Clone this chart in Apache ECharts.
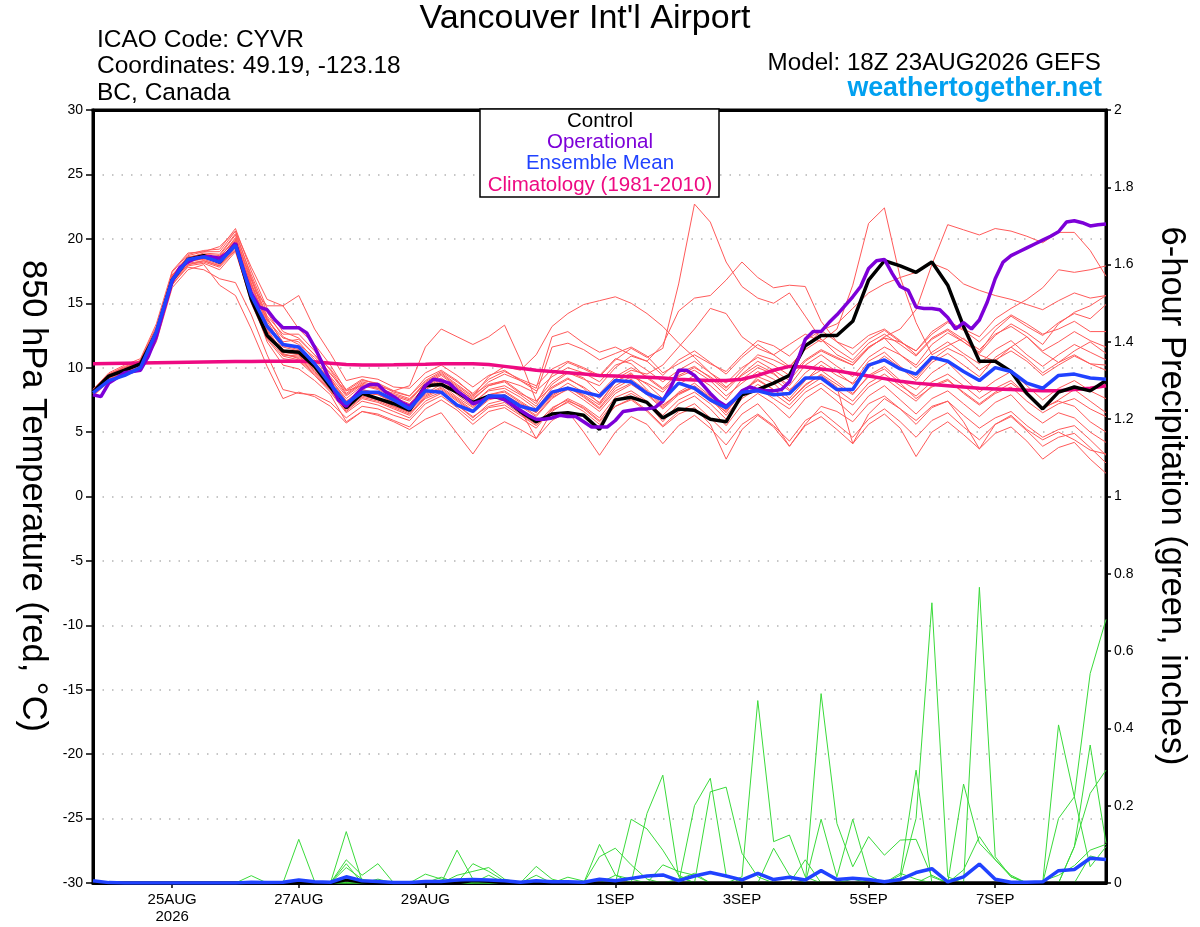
<!DOCTYPE html>
<html>
<head>
<meta charset="utf-8">
<script src="https://cdn.jsdelivr.net/npm/echarts@6/dist/echarts.min.js"></script>
<style>
  html, body { margin: 0; padding: 0; background: #fff; }
  #chart { width: 1200px; height: 927px; }
</style>
</head>
<body>
<div id="chart"></div>
<script>
// x axis is forecast hour from 18Z 23AUG2026 (GEFS every 6h, operational every 3h)
var tickHours = [30, 78, 126, 198, 246, 294, 342];
var tickLabels = ['25AUG\n2026', '27AUG', '29AUG', '1SEP', '3SEP', '5SEP', '7SEP'];

// 850 hPa temperature (C)
var control = [
  8.1, 9.35, 9.8, 10.3, 12.7, 16.8, 18.4, 18.7, 18.2, 19.6, 15.3, 12.5, 11.3,
  11.2, 10.1, 8.5, 6.9, 8.0, 7.6, 7.2, 6.7, 8.6, 8.7, 8.1, 7.3, 7.8,
  7.6, 6.6, 5.8, 6.4, 6.5, 6.3, 5.2, 7.5, 7.7, 7.3, 6.1, 6.8, 6.7,
  6.0, 5.8, 7.9, 8.3, 8.8, 9.4, 11.7, 12.5, 12.5, 13.6, 16.8, 18.3, 17.9,
  17.4, 18.2, 16.4, 13.2, 10.5, 10.5, 9.7, 8.0, 6.8, 8.1, 8.5, 8.2, 9.0
];
var operational = [
  7.9, 7.75, 8.8, 9.2, 9.6, 9.7, 9.8, 10.9, 12.4, 14.6, 16.7, 17.8, 18.2, 18.5, 18.6, 18.6,
  18.5, 18.9, 19.65, 17.6, 15.8, 14.7, 14.5, 13.7, 13.1, 13.1, 13.1, 12.7, 11.6, 10.3, 8.9, 7.5,
  7.0, 7.75, 8.4, 8.7, 8.7, 8.1, 7.75, 7.3, 7.0, 7.6, 8.6, 9.1, 9.0, 8.8, 8.2, 7.75,
  7.2, 7.4, 7.7, 7.75, 7.5, 7.1, 6.7, 6.3, 6.0, 6.0, 6.1, 6.3, 6.2, 6.2, 5.8, 5.4,
  5.4, 5.4, 5.9, 6.6, 6.7, 6.8, 6.8, 6.9, 7.4, 8.5, 9.8, 9.8, 9.4, 8.7, 8.0, 7.4,
  7.0, 7.5, 8.2, 8.5, 8.3, 8.2, 8.2, 8.3, 8.9, 10.5, 12.2, 12.8, 12.8, 13.5, 14.1, 14.8,
  15.5, 16.3, 17.7, 18.3, 18.4, 17.3, 16.3, 16.0, 14.7, 14.6, 14.6, 14.5, 13.9, 13.0, 13.5, 13.0,
  13.7, 15.1, 16.9, 18.2, 18.7, 19.0, 19.3, 19.6, 19.9, 20.2, 20.55, 21.3, 21.4, 21.25, 21.0, 21.1,
  21.15
];
var ensMean = [
  8.05, 9.0, 9.4, 10.0, 12.8, 16.8, 18.4, 18.6, 18.2, 19.5, 15.6, 13.2, 11.8,
  11.6, 10.3, 8.7, 7.2, 8.1, 8.1, 7.5, 6.8, 8.2, 8.1, 7.1, 6.6, 7.8,
  7.8, 7.0, 6.7, 8.1, 8.4, 8.1, 7.8, 9.0, 8.9, 8.0, 7.5, 8.8, 8.4,
  7.5, 6.9, 8.1, 8.2, 7.9, 8.0, 9.2, 9.2, 8.3, 8.3, 10.2, 10.6, 9.9,
  9.5, 10.8, 10.5, 9.7, 9.0, 10.0, 9.7, 8.8, 8.4, 9.4, 9.5, 9.2, 9.1
];
var climatology = [
  10.3, 10.32, 10.34, 10.36, 10.38, 10.4, 10.42, 10.44, 10.46, 10.47, 10.48, 10.5, 10.5,
  10.5, 10.45, 10.35, 10.25, 10.2, 10.2, 10.22, 10.25, 10.27, 10.3, 10.3, 10.3, 10.25,
  10.1, 9.95, 9.8, 9.7, 9.6, 9.5, 9.4, 9.35, 9.3, 9.25, 9.2, 9.1, 9.05,
  9.0, 9.0, 9.1, 9.4, 9.8, 10.1, 10.05, 9.9, 9.75, 9.55, 9.35, 9.15, 8.95,
  8.8, 8.7, 8.6, 8.5, 8.4, 8.35, 8.3, 8.25, 8.2, 8.2, 8.3, 8.4, 8.6
];
var tempMembers = [
  [8.3, 9.2, 9.9, 10.6, 13.2, 17.2, 18.2, 18.5, 18.6, 19.9, 16.8, 13.9, 11.9,
   11.5, 10.4, 9.2, 7.4, 8.3, 8.0, 7.6, 7.1, 8.3, 8.9, 7.9, 7.0, 7.9,
   8.2, 7.4, 6.6, 7.9, 8.5, 7.8, 6.9, 8.4, 9.1, 8.2, 7.0, 8.0, 8.6,
   7.7, 6.5, 8.2, 9.0, 8.3, 7.4, 8.6, 9.5, 8.7, 7.9, 9.4, 10.1, 9.0,
   8.3, 9.6, 10.4, 9.2, 8.1, 9.0, 9.7, 8.6, 7.5, 8.4, 9.0, 8.2, 7.6],
  [7.9, 9.0, 9.6, 10.1, 12.4, 16.6, 18.0, 18.3, 17.9, 19.3, 16.2, 13.8, 12.0,
   12.2, 11.0, 9.5, 8.2, 9.0, 8.8, 8.2, 8.6, 11.6, 13.0, 12.4, 11.8, 12.4,
   13.3, 10.6, 7.4, 8.5, 9.2, 8.4, 7.2, 8.9, 9.6, 8.3, 7.1, 8.0, 8.5,
   7.4, 6.6, 8.0, 9.3, 8.8, 7.6, 9.0, 10.2, 9.4, 8.8, 10.5, 11.2, 10.1,
   9.2, 10.6, 11.5, 10.9, 9.8, 10.6, 11.3, 10.5, 9.4, 10.2, 10.9, 10.3, 9.8],
  [8.0, 9.4, 10.0, 10.4, 12.9, 17.0, 18.5, 18.9, 18.8, 20.4, 17.2, 14.3, 12.4,
   11.8, 10.8, 9.6, 7.9, 8.8, 8.5, 7.9, 7.5, 8.9, 9.6, 8.7, 7.8, 9.3,
   10.1, 9.8, 11.0, 13.2, 14.2, 14.9, 15.2, 15.5, 15.0, 14.2, 13.2, 11.9, 10.8,
   9.6, 8.5, 9.4, 10.2, 9.6, 8.3, 9.1, 9.8, 8.9, 8.0, 9.3, 9.9, 8.8,
   7.6, 8.5, 9.0, 8.1, 7.2, 8.1, 8.8, 7.9, 6.8, 7.5, 8.3, 7.4, 6.5],
  [8.2, 9.5, 10.1, 10.5, 13.0, 17.4, 18.8, 19.1, 19.2, 20.8, 17.5, 14.6, 12.8,
   12.3, 11.0, 9.9, 8.3, 9.1, 8.7, 8.1, 7.8, 9.2, 9.8, 9.0, 7.9, 8.7,
   9.0, 8.1, 7.2, 9.5, 10.4, 9.9, 9.3, 10.6, 11.5, 10.8, 11.5, 16.5, 22.7,
   21.3, 18.2, 16.3, 15.4, 15.0, 15.8, 14.0, 12.2, 11.0, 10.4, 11.6, 12.3, 11.0,
   10.0, 11.2, 12.0, 11.1, 10.3, 11.4, 12.1, 11.0, 10.1, 11.0, 11.8, 11.2, 10.6],
  [8.0, 9.1, 9.7, 10.2, 12.6, 16.9, 18.3, 18.4, 18.0, 19.4, 15.9, 12.8, 11.0,
   10.9, 9.8, 8.6, 7.0, 8.0, 7.9, 7.3, 6.9, 8.4, 9.0, 8.2, 7.2, 8.3,
   8.6, 7.9, 7.0, 8.7, 9.6, 9.1, 8.6, 10.0, 10.9, 10.5, 11.8, 14.4, 15.4,
   15.6, 16.8, 18.2, 17.0, 16.2, 16.4, 16.3, 13.6, 12.0, 11.5, 12.5, 13.0, 12.1,
   11.0, 12.3, 13.0, 12.2, 11.4, 12.6, 13.2, 12.4, 11.3, 12.0, 12.8, 12.1, 11.6],
  [8.1, 9.3, 9.7, 10.3, 12.8, 16.9, 18.5, 18.6, 18.4, 19.7, 16.5, 13.4, 11.6,
   11.3, 10.3, 9.0, 7.4, 8.3, 8.0, 7.5, 7.0, 8.5, 9.1, 8.2, 7.3, 8.2,
   8.4, 7.7, 6.8, 8.4, 9.1, 8.5, 7.6, 9.1, 9.8, 9.5, 10.2, 11.6, 13.0,
   14.6, 14.2, 12.4, 11.5, 11.0, 11.8, 12.6, 12.0, 13.0, 16.4, 21.2, 22.4, 17.0,
   13.5, 11.0, 11.7, 12.3, 11.0, 10.5, 11.6, 12.4, 11.2, 10.4, 11.3, 12.0, 11.1],
  [8.3, 9.6, 10.2, 10.7, 13.4, 17.5, 18.9, 19.0, 19.0, 20.6, 17.8, 15.3, 14.8,
   15.6, 13.0, 11.1, 9.0, 9.3, 9.1, 8.5, 8.4, 9.6, 10.2, 9.4, 8.5, 9.4,
   9.8, 9.0, 8.2, 9.3, 10.0, 9.6, 8.9, 10.2, 10.6, 9.8, 8.9, 9.8, 10.5,
   9.6, 8.8, 10.0, 10.8, 10.2, 9.4, 10.6, 11.4, 10.8, 10.2, 11.5, 12.4, 13.0,
   14.5, 18.0, 21.1, 20.7, 20.3, 20.8, 20.6, 20.2, 19.7, 20.5, 20.5, 19.1, 17.1],
  [7.8, 9.0, 9.5, 9.9, 12.2, 16.4, 17.9, 18.1, 17.6, 19.0, 15.2, 12.3, 10.9,
   10.6, 9.5, 8.2, 6.6, 7.6, 7.3, 6.8, 6.3, 7.7, 8.3, 7.4, 6.5, 7.5,
   7.8, 7.0, 6.2, 7.6, 8.4, 7.9, 7.1, 8.6, 9.3, 8.8, 8.1, 9.4, 10.0,
   9.3, 8.4, 9.8, 11.0, 10.6, 10.0, 11.6, 12.9, 13.4, 14.6, 15.8, 16.5, 17.0,
   17.4, 18.1, 17.6, 16.5, 16.0, 15.6, 15.3, 14.9, 14.5, 15.2, 15.8, 15.4, 15.6],
  [8.2, 9.4, 9.9, 10.4, 12.9, 17.1, 18.6, 18.7, 18.5, 20.1, 16.9, 13.6, 11.7,
   11.4, 10.3, 9.1, 7.6, 8.6, 8.3, 7.7, 7.2, 8.6, 9.2, 8.4, 7.6, 8.6,
   8.9, 8.0, 7.4, 8.9, 9.7, 9.2, 8.0, 9.3, 10.0, 9.3, 8.4, 9.6, 10.1,
   9.2, 8.2, 9.5, 10.5, 9.8, 9.0, 10.5, 11.3, 10.7, 10.2, 11.6, 12.3, 12.0,
   11.3, 12.8, 13.6, 13.0, 12.4, 13.8, 14.6, 15.3, 16.2, 17.6, 17.4, 17.6, 17.9],
  [8.0, 9.2, 9.8, 10.2, 12.7, 16.8, 18.3, 18.6, 18.3, 19.8, 16.0, 13.0, 11.2,
   11.0, 9.9, 8.8, 7.2, 8.2, 7.9, 7.4, 6.8, 8.0, 8.7, 7.7, 6.9, 7.9,
   8.1, 7.3, 6.5, 8.0, 8.8, 8.1, 7.3, 8.9, 9.5, 8.7, 7.6, 8.7, 9.4,
   8.6, 7.5, 9.1, 10.0, 9.5, 8.6, 10.2, 11.0, 10.1, 9.3, 10.8, 11.6, 11.0,
   10.2, 11.8, 12.7, 12.0, 11.2, 12.9, 14.0, 13.2, 12.5, 13.5, 14.2, 13.8, 14.9],
  [7.8, 8.9, 9.4, 9.8, 12.0, 16.2, 17.6, 18.0, 16.4, 15.6, 13.0, 10.1, 7.6,
   8.1, 7.75, 7.0, 5.7, 6.6, 6.4, 5.9, 5.4, 6.8, 7.5, 6.7, 5.6, 6.6,
   6.9, 6.1, 5.3, 6.8, 7.6, 7.0, 6.1, 7.7, 8.2, 7.4, 6.3, 7.5, 8.1,
   7.2, 6.0, 7.6, 8.4, 7.6, 6.8, 8.1, 8.8, 7.9, 7.1, 8.5, 9.2, 8.3,
   7.4, 8.6, 9.1, 8.0, 7.1, 8.0, 8.5, 7.4, 6.5, 7.2, 7.6, 6.8, 6.2],
  [8.0, 9.1, 9.6, 10.0, 12.3, 16.5, 17.8, 17.6, 16.9, 16.6, 14.1, 11.0, 8.3,
   8.0, 7.9, 7.3, 6.1, 7.0, 6.8, 6.3, 5.9, 7.2, 7.8, 6.9, 5.9, 6.9,
   7.1, 6.3, 5.5, 6.7, 7.3, 6.6, 5.6, 7.0, 7.6, 6.7, 5.5, 6.6, 7.2,
   6.1, 4.9, 6.4, 7.2, 5.8, 3.9, 5.6, 7.0, 6.6, 5.8, 7.2, 7.8, 6.8,
   5.9, 7.0, 7.4, 6.3, 5.3, 6.1, 6.6, 5.5, 4.6, 5.2, 5.5, 4.4, 3.2],
  [8.1, 9.3, 9.8, 10.2, 12.6, 16.7, 18.1, 18.3, 17.9, 19.2, 15.4, 12.0, 10.2,
   9.9, 9.0, 7.9, 5.8, 6.6, 6.3, 5.8, 5.2, 6.0, 6.5, 4.9, 3.3, 5.1,
   5.8, 5.2, 4.5, 5.9, 6.6, 5.0, 3.2, 5.0, 6.2, 5.6, 4.1, 5.5, 6.3,
   5.3, 4.0, 5.6, 6.4, 5.5, 4.3, 5.9, 6.6, 5.6, 4.6, 6.0, 6.8, 5.8,
   4.6, 5.9, 6.5, 5.4, 4.4, 5.6, 6.2, 5.1, 3.9, 4.6, 4.9, 3.8, 2.6],
  [8.3, 9.5, 10.0, 10.5, 13.1, 17.2, 18.6, 18.8, 18.7, 20.3, 16.6, 13.3, 11.4,
   11.0, 10.0, 8.7, 7.1, 7.9, 7.6, 7.0, 6.5, 7.6, 8.1, 7.1, 6.2, 7.0,
   7.3, 6.4, 5.6, 6.9, 7.5, 6.8, 5.8, 7.0, 7.5, 6.6, 5.4, 6.4, 6.9,
   5.6, 2.9, 5.2, 6.3, 5.4, 3.9, 5.5, 6.2, 5.2, 4.1, 5.6, 6.4, 5.3,
   3.1, 5.0, 5.8, 4.8, 3.7, 4.9, 5.4, 4.3, 2.9, 3.8, 4.2, 2.9, 1.8],
  [7.9, 9.1, 9.6, 10.1, 12.5, 16.7, 18.2, 18.5, 18.1, 19.5, 15.7, 12.6, 11.0,
   10.8, 9.7, 8.4, 6.8, 7.8, 7.5, 7.0, 6.6, 7.9, 8.5, 7.6, 6.7, 7.6,
   7.9, 7.1, 6.3, 7.7, 8.3, 7.5, 6.6, 8.0, 8.7, 7.9, 6.8, 7.9, 8.5,
   7.6, 6.3, 7.8, 8.7, 8.0, 7.1, 8.4, 9.2, 8.3, 7.4, 8.8, 9.5, 8.6,
   7.8, 8.9, 9.5, 8.6, 7.6, 8.4, 9.0, 7.9, 6.9, 7.4, 7.0, 5.8, 5.0],
  [8.2, 9.4, 9.9, 10.3, 12.8, 17.0, 18.4, 18.6, 18.3, 19.9, 16.4, 13.7, 12.3,
   12.0, 10.6, 9.3, 7.8, 8.7, 8.4, 7.8, 7.4, 8.8, 9.5, 8.6, 7.7, 8.9,
   9.5, 9.0, 8.4, 12.4, 12.8, 11.9, 11.2, 11.6, 11.0, 10.5, 9.4, 10.6, 11.3,
   10.4, 9.5, 10.8, 11.8, 11.0, 10.1, 11.4, 12.2, 11.4, 10.6, 11.9, 12.6, 11.8,
   10.9, 12.2, 12.9, 12.0, 11.1, 12.5, 13.4, 12.7, 11.8, 13.4, 14.3, 14.8, 15.6],
  [8.0, 9.2, 9.7, 10.3, 12.7, 16.8, 18.3, 18.5, 18.2, 19.6, 16.3, 14.8, 14.8,
   13.0, 11.8, 10.2, 8.2, 8.6, 8.4, 8.0, 7.6, 8.7, 9.4, 8.5, 7.5, 8.6,
   9.0, 8.6, 8.0, 11.6, 11.9, 11.4, 10.6, 11.1, 11.6, 10.9, 9.6, 10.3, 11.0,
   10.3, 9.7, 11.0, 12.1, 11.7, 10.9, 12.1, 12.9, 12.0, 11.0, 12.2, 12.9, 12.0,
   11.3, 12.6, 13.5, 12.9, 12.0, 13.2, 14.1, 13.4, 12.6, 13.0, 13.6, 12.8, 12.8],
  [8.1, 9.3, 9.8, 10.3, 12.7, 16.9, 18.4, 18.7, 18.6, 20.0, 16.0, 12.9, 11.1,
   10.7, 9.6, 8.3, 6.7, 7.7, 7.4, 6.9, 6.4, 7.8, 8.4, 7.5, 6.6, 7.6,
   7.9, 7.2, 6.5, 7.8, 8.5, 7.7, 6.8, 8.2, 8.8, 8.0, 6.9, 8.1, 8.8,
   7.8, 6.7, 8.2, 9.1, 8.3, 7.4, 8.7, 9.4, 8.5, 4.1, 6.4, 7.6, 6.8,
   5.6, 6.9, 7.4, 5.8, 3.7, 5.6, 6.3, 5.2, 4.4, 5.0, 4.4, 3.6, 3.3],
  [8.2, 9.5, 10.0, 10.4, 12.9, 17.1, 18.7, 19.0, 19.4, 20.6, 17.0, 14.0, 12.6,
   12.6, 11.3, 9.8, 8.0, 8.9, 8.6, 8.2, 7.8, 9.0, 9.7, 8.9, 8.0, 9.1,
   9.7, 9.1, 8.6, 9.9, 10.5, 10.0, 9.4, 10.7, 10.3, 9.2, 8.3, 9.3, 9.8,
   9.0, 7.8, 8.8, 9.7, 9.1, 8.2, 9.6, 10.5, 9.7, 8.7, 10.0, 10.9, 10.0,
   9.0, 10.4, 11.1, 10.2, 9.3, 10.8, 11.6, 10.7, 9.6, 10.4, 11.0, 10.3, 10.2],
  [8.0, 9.0, 9.6, 10.0, 12.5, 16.6, 18.0, 18.2, 17.8, 19.1, 15.0, 12.2, 10.7,
   10.5, 9.4, 8.1, 6.5, 7.4, 7.1, 6.6, 6.1, 7.4, 8.0, 7.1, 6.1, 7.2,
   7.5, 6.7, 4.5, 6.6, 7.4, 6.9, 5.9, 7.4, 8.0, 7.3, 5.8, 7.2, 7.8,
   6.8, 5.5, 7.1, 8.0, 7.2, 6.1, 7.6, 8.4, 7.4, 6.3, 7.8, 8.6, 7.5,
   6.4, 7.6, 8.2, 7.2, 6.2, 7.3, 7.9, 6.6, 5.7, 6.5, 6.1, 5.0, 4.2]
];

// 6-hour precipitation (inches)
var precipMean = [
  0.006, 0.001, 0, 0, 0, 0, 0, 0, 0, 0, 0.002, 0.001, 0.002,
  0.008, 0.003, 0.002, 0.016, 0.006, 0.004, 0.001, 0.001, 0.004, 0.004, 0.008, 0.009, 0.008,
  0.006, 0.002, 0.006, 0.003, 0.003, 0.002, 0.0095, 0.006, 0.012, 0.018, 0.021, 0.006, 0.018,
  0.027, 0.018, 0.008, 0.025, 0.009, 0.015, 0.008, 0.032, 0.009, 0.012, 0.009, 0.003, 0.009,
  0.027, 0.037, 0.003, 0.016, 0.049, 0.0095, 0.002, 0.002, 0.003, 0.032, 0.035, 0.064, 0.061
];
var precipControl = [
  0, 0, 0, 0, 0, 0, 0, 0, 0, 0, 0, 0, 0,
  0, 0, 0, 0.008, 0.002, 0, 0, 0, 0, 0, 0, 0.006, 0.004,
  0, 0, 0, 0, 0, 0, 0, 0, 0, 0, 0, 0, 0,
  0, 0, 0, 0, 0, 0, 0, 0, 0, 0, 0, 0, 0,
  0, 0, 0, 0, 0, 0, 0, 0, 0, 0, 0, 0, 0
];
var precipMembers = [
  [0, 0, 0, 0, 0, 0, 0, 0, 0, 0, 0, 0, 0,
   0.113, 0.004, 0, 0, 0, 0, 0, 0, 0, 0, 0.085, 0.01, 0,
   0, 0, 0, 0, 0, 0, 0.1, 0.021, 0, 0, 0, 0, 0,
   0, 0, 0.016, 0.472, 0.107, 0.124, 0.016, 0, 0, 0, 0, 0, 0,
   0, 0, 0, 0, 0.765, 0.068, 0.016, 0, 0, 0, 0, 0, 0],
  [0, 0, 0, 0, 0, 0, 0, 0, 0, 0, 0, 0, 0,
   0, 0, 0, 0.133, 0.005, 0, 0, 0, 0, 0, 0, 0, 0,
   0, 0, 0, 0, 0, 0, 0, 0, 0, 0.18, 0.279, 0.016, 0,
   0, 0, 0, 0, 0, 0, 0, 0.49, 0.154, 0.042, 0.12, 0.072, 0.111,
   0.113, 0.016, 0, 0, 0, 0, 0, 0, 0, 0.167, 0.223, 0.542, 0.682],
  [0, 0, 0, 0, 0, 0, 0, 0, 0, 0, 0, 0, 0,
   0, 0, 0, 0.06, 0.02, 0.05, 0, 0, 0, 0, 0, 0, 0,
   0, 0, 0, 0, 0, 0, 0, 0, 0, 0, 0, 0, 0.2,
   0.271, 0.02, 0, 0, 0, 0, 0, 0, 0, 0, 0, 0, 0.01,
   0.167, 0.725, 0.016, 0, 0, 0, 0, 0, 0, 0, 0, 0, 0],
  [0, 0, 0, 0, 0, 0, 0, 0, 0, 0, 0.019, 0, 0,
   0, 0, 0, 0.05, 0, 0, 0, 0, 0.023, 0.01, 0, 0, 0,
   0, 0, 0, 0, 0, 0, 0.068, 0.09, 0.047, 0.01, 0, 0, 0,
   0, 0, 0, 0, 0, 0, 0, 0, 0, 0, 0, 0, 0,
   0, 0, 0, 0.256, 0.103, 0.06, 0.016, 0, 0, 0.409, 0.223, 0.042, 0.094],
  [0, 0, 0, 0, 0, 0, 0, 0, 0, 0, 0, 0, 0,
   0, 0, 0, 0.04, 0.01, 0, 0, 0, 0, 0, 0, 0.05, 0.03,
   0.005, 0, 0, 0, 0, 0, 0, 0, 0, 0, 0, 0, 0,
   0.236, 0.248, 0.077, 0.016, 0, 0, 0, 0, 0, 0, 0, 0, 0.02,
   0.292, 0, 0, 0, 0, 0, 0, 0, 0, 0, 0.094, 0.357, 0.103],
  [0, 0, 0, 0, 0, 0, 0, 0, 0, 0, 0, 0, 0,
   0, 0, 0, 0, 0, 0, 0, 0, 0, 0, 0.02, 0.03, 0.04,
   0.01, 0, 0.043, 0.01, 0, 0, 0, 0, 0.165, 0.14, 0.085, 0.02, 0,
   0, 0, 0, 0, 0, 0, 0, 0.165, 0.016, 0.165, 0.02, 0, 0,
   0, 0, 0, 0, 0, 0, 0, 0, 0, 0, 0.094, 0.232, 0.292],
  [0, 0, 0, 0, 0, 0, 0, 0, 0, 0, 0, 0, 0,
   0, 0, 0, 0, 0, 0, 0, 0, 0, 0, 0, 0, 0,
   0, 0, 0, 0, 0.015, 0.005, 0, 0, 0, 0, 0.047, 0.03, 0.02,
   0, 0, 0, 0, 0.09, 0.02, 0, 0, 0, 0, 0, 0, 0,
   0, 0.02, 0, 0.034, 0.12, 0.06, 0.02, 0, 0, 0, 0, 0.07, 0.06],
  [0, 0, 0, 0, 0, 0, 0, 0, 0, 0, 0, 0, 0,
   0, 0, 0, 0, 0, 0.01, 0, 0, 0, 0.015, 0, 0, 0.02,
   0, 0, 0.02, 0, 0, 0, 0, 0.02, 0.01, 0, 0, 0.01, 0.025,
   0, 0, 0, 0, 0, 0, 0.06, 0, 0, 0.01, 0, 0, 0.025,
   0.01, 0, 0, 0, 0, 0, 0, 0, 0.005, 0.02, 0.045, 0.085, 0.1]
];

var FONT = '"Liberation Sans", Arial, Helvetica, sans-serif';

function pairs(arr, step) {
  return arr.map(function(v, i) { return [i * step, v]; });
}
function checkLen(arr, n, name) {
  if(arr.length !== n) { throw new Error(name + ' has ' + arr.length + ' values, expected ' + n); }
}
checkLen(control, 65, 'control');
checkLen(ensMean, 65, 'ensMean');
checkLen(climatology, 65, 'climatology');
checkLen(operational, 129, 'operational');
checkLen(precipMean, 65, 'precipMean');
checkLen(precipControl, 65, 'precipControl');
tempMembers.forEach(function(m, k) { checkLen(m, 65, 'tempMembers[' + k + ']'); });
precipMembers.forEach(function(m, k) { checkLen(m, 65, 'precipMembers[' + k + ']'); });

function line(data, axis, color, width) {
  return {
    type: 'line', yAxisIndex: axis, data: data, symbol: 'none',
    silent: true, animation: false,
    lineStyle: { color: color, width: width }
  };
}

var series = [];
tempMembers.forEach(function(m) { series.push(line(pairs(m, 6), 0, '#ff5a5a', 1)); });
precipMembers.forEach(function(m) { series.push(line(pairs(m, 6), 1, '#3ada3a', 1)); });
series.push(line(pairs(precipControl, 6), 1, '#000000', 3));
series.push(line(pairs(climatology, 6), 0, '#ee0a82', 3.5));
series.push(line(pairs(control, 6), 0, '#000000', 3.5));
series.push(line(pairs(operational, 3), 0, '#7d00d8', 3.5));
series.push(line(pairs(ensMean, 6), 0, '#2042ff', 3.5));
series.push(line(pairs(precipMean, 6), 1, '#2042ff', 3.5));

function txt(x, y, text, size, color, align, weight, rot) {
  return {
    type: 'text', x: x, y: y, rotation: rot || 0, z: 100,
    style: {
      text: text, fill: color, textAlign: align,
      textVerticalAlign: 'middle', verticalAlign: 'middle',
      font: (weight || 'normal') + ' ' + size + 'px ' + FONT
    }
  };
}

var chart = echarts.init(document.getElementById('chart'));
chart.setOption({
  backgroundColor: '#ffffff',
  animation: false,
  grid: {
    left: 93, right: 94, top: 110, bottom: 44,
    show: true, borderColor: '#000', borderWidth: 3, backgroundColor: 'transparent'
  },
  xAxis: [{
    type: 'value', min: 0, max: 384, position: 'bottom',
    axisLine: { show: true, onZero: false, lineStyle: { color: '#000', width: 3 } },
    axisTick: { show: true, customValues: tickHours, length: 5, lineStyle: { color: '#000', width: 1.5 } },
    axisLabel: {
      customValues: tickHours, color: '#000', fontSize: 15, fontFamily: FONT,
      margin: 8, lineHeight: 17,
      formatter: function(v) { var k = tickHours.indexOf(v); return k < 0 ? '' : tickLabels[k]; }
    },
    splitLine: { show: false }
  }, {
    // top frame line only
    type: 'value', min: 0, max: 384, position: 'top',
    axisLine: { show: true, onZero: false, lineStyle: { color: '#000', width: 3 } },
    axisTick: { show: false }, axisLabel: { show: false }, splitLine: { show: false }
  }],
  yAxis: [{
    type: 'value', min: -30, max: 30, interval: 5, position: 'left',
    axisLine: { show: true, onZero: false, lineStyle: { color: '#000', width: 3 } },
    axisTick: { show: true, length: 7, lineStyle: { color: '#000', width: 1.5 } },
    axisLabel: { color: '#000', fontSize: 14, fontFamily: FONT, margin: 10 },
    splitLine: {
      show: true, showMinLine: false, showMaxLine: false,
      lineStyle: { color: '#b4b4b4', width: 1.5, type: [1.5, 8] }
    }
  }, {
    type: 'value', min: 0, max: 2, interval: 0.2, position: 'right',
    axisLine: { show: true, onZero: false, lineStyle: { color: '#000', width: 3 } },
    axisTick: { show: true, length: 5, lineStyle: { color: '#000', width: 1.5 } },
    axisLabel: {
      color: '#000', fontSize: 14, fontFamily: FONT, margin: 8,
      formatter: function(v) { return String(+v.toFixed(1)); }
    },
    splitLine: { show: false }
  }],
  series: series,
  graphic: [
    txt(585, 19, "Vancouver Int'l Airport", 34, '#000', 'center'),
    txt(97, 40, 'ICAO Code: CYVR', 24.5, '#000', 'left'),
    txt(97, 66, 'Coordinates: 49.19, -123.18', 24.5, '#000', 'left'),
    txt(97, 93, 'BC, Canada', 24.5, '#000', 'left'),
    txt(1101, 63, 'Model: 18Z 23AUG2026 GEFS', 24.2, '#000', 'right'),
    txt(1102, 89, 'weathertogether.net', 26.8, '#00a0f0', 'right', 'bold'),
    {
      type: 'rect', z: 99,
      shape: { x: 480, y: 109, width: 239, height: 88 },
      style: { fill: '#fff', stroke: '#000', lineWidth: 1.5 }
    },
    txt(600, 121, 'Control', 20.5, '#000', 'center'),
    txt(600, 142, 'Operational', 20.5, '#7d00d8', 'center'),
    txt(600, 163, 'Ensemble Mean', 20.5, '#2042ff', 'center'),
    txt(600, 185, 'Climatology (1981-2010)', 20.5, '#ee0a82', 'center'),
    txt(33, 496, '850 hPa Temperature (red, \u00b0C)', 34.5, '#000', 'center', 'normal', -Math.PI / 2),
    txt(1172, 496, '6-hour Precipitation (green, inches)', 34.5, '#000', 'center', 'normal', -Math.PI / 2)
  ]
});
</script>
</body>
</html>
